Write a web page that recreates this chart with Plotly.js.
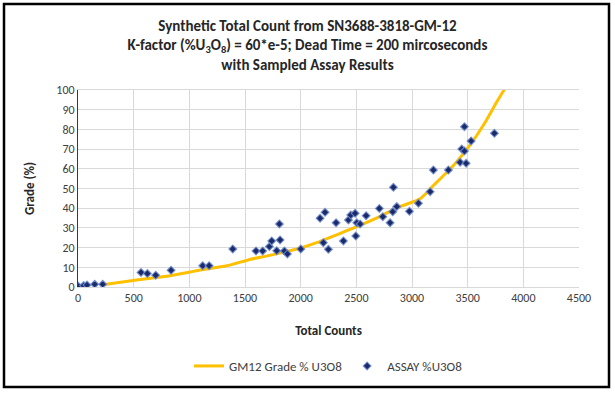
<!DOCTYPE html>
<html>
<head>
<meta charset="utf-8">
<script src="https://cdn.plot.ly/plotly-3.0.1.min.js"></script>
<style>
html,body{margin:0;padding:0;background:#fff;}
#chart{width:615px;height:393px;}
</style>
</head>
<body>
<div id="chart"></div>
<script>
// Curve: GM12 Grade % U3O8
const curveCounts = [222, 527, 827, 1100, 1336, 1545, 1700, 1845, 2000, 2144, 2300, 2504, 2700, 2893, 3073, 3192, 3300, 3402, 3522, 3642, 3762, 3836];
const curveGrade  = [1.2, 3.6, 5.7, 8.6, 10.8, 14.0, 15.8, 17.6, 19.8, 22.5, 26.0, 30.6, 35.5, 40.8, 44.8, 51.5, 57.5, 63.6, 72.1, 82.2, 94.0, 100.9];

// Sampled assay results
const assayCounts = [0, 51, 81, 150, 222, 566, 623, 698, 836, 1120, 1178, 1390, 1599, 1659, 1719, 1740, 1785, 1809, 1815, 1854, 1881, 2001, 2174, 2204, 2219, 2249, 2318, 2384, 2429, 2450, 2489, 2495, 2504, 2534, 2588, 2707, 2738, 2803, 2827, 2833, 2863, 2977, 3058, 3163, 3192, 3327, 3432, 3447, 3471, 3471, 3486, 3531, 3740];
const assayGrade  = [0.5, 0.7, 1.0, 1.4, 1.4, 7.4, 6.8, 6.0, 8.5, 10.8, 10.8, 19.3, 18.3, 18.3, 20.5, 23.4, 18.4, 32.0, 23.9, 18.3, 16.8, 19.3, 34.9, 22.5, 37.9, 19.1, 32.6, 23.4, 34.0, 36.5, 37.4, 25.9, 32.6, 32.0, 36.2, 39.9, 35.7, 32.6, 38.2, 50.6, 40.8, 38.4, 42.5, 48.4, 59.4, 59.4, 63.3, 70.0, 69.0, 81.4, 62.8, 74.1, 78.0];

const seriesNames = ["GM12 Grade % U3O8", "ASSAY %U3O8"];
const titleText = "Synthetic Total Count from SN3688-3818-GM-12<br>K-factor (%U<sub>3</sub>O<sub>8</sub>) = 60*e-5; Dead Time = 200 mircoseconds<br>with Sampled Assay Results";
const xTitle = "Total Counts";
const yTitle = "Grade (%)";

const FONT = "Carlito, Calibri, Lato, 'Open Sans', sans-serif";

const traces = [
  {
    x: curveCounts, y: curveGrade, name: seriesNames[0],
    type: "scatter", mode: "lines",
    line: {color: "#FFC000", width: 3, shape: "spline", smoothing: 0.6}
  },
  {
    x: assayCounts, y: assayGrade, name: seriesNames[1],
    type: "scatter", mode: "markers",
    marker: {symbol: "diamond", size: 6, color: "#1B2A6B", line: {color: "rgba(110,140,205,0.85)", width: 1.2}}
  }
];

const pw = 501, ph = 197;
const layout = {
  width: 615, height: 393,
  paper_bgcolor: "#fff", plot_bgcolor: "#fff",
  margin: {l: 78, r: 36, t: 90, b: 106},
  font: {family: FONT, size: 12, color: "#404040"},
  title: {
    text: titleText,
    font: {family: FONT, size: 15, color: "#262626", weight: "bold"},
    x: 0.5, xanchor: "center", y: 0.922, yanchor: "top", yref: "container"
  },
  xaxis: {
    range: [0, 4500], dtick: 500, tick0: 0,
    showgrid: true, gridcolor: "#D9D9D9", gridwidth: 1,
    zeroline: false, showline: true, linecolor: "#D9D9D9", mirror: true,
    ticks: "", tickfont: {size: 12, color: "#404040"},
    title: {text: xTitle, font: {size: 13, color: "#262626", weight: "bold"}, standoff: 21}
  },
  yaxis: {
    range: [0, 100], dtick: 10, tick0: 0,
    showgrid: true, gridcolor: "#D9D9D9", gridwidth: 1,
    zeroline: false, showline: true, linecolor: "#C00000", linewidth: 1,
    ticks: "", tickfont: {size: 12, color: "#404040"},
    title: {text: yTitle, font: {size: 13, color: "#262626", weight: "bold"}, standoff: 18}
  },
  legend: {
    orientation: "h", x: 0.5, xanchor: "center", y: (287 - 366) / ph, yanchor: "middle",
    font: {size: 13, color: "#404040"}, bgcolor: "rgba(0,0,0,0)"
  },
  shapes: [{
    type: "rect", xref: "paper", yref: "paper", layer: "above",
    x0: (4 - 78) / pw, x1: (609 - 78) / pw,
    y0: (287 - 387) / ph, y1: (287 - 4) / ph,
    line: {color: "#000", width: 2.5}, fillcolor: "rgba(0,0,0,0)"
  }],
  showlegend: true
};

Plotly.newPlot("chart", traces, layout, {displayModeBar: false, staticPlot: true});
</script>
</body>
</html>
